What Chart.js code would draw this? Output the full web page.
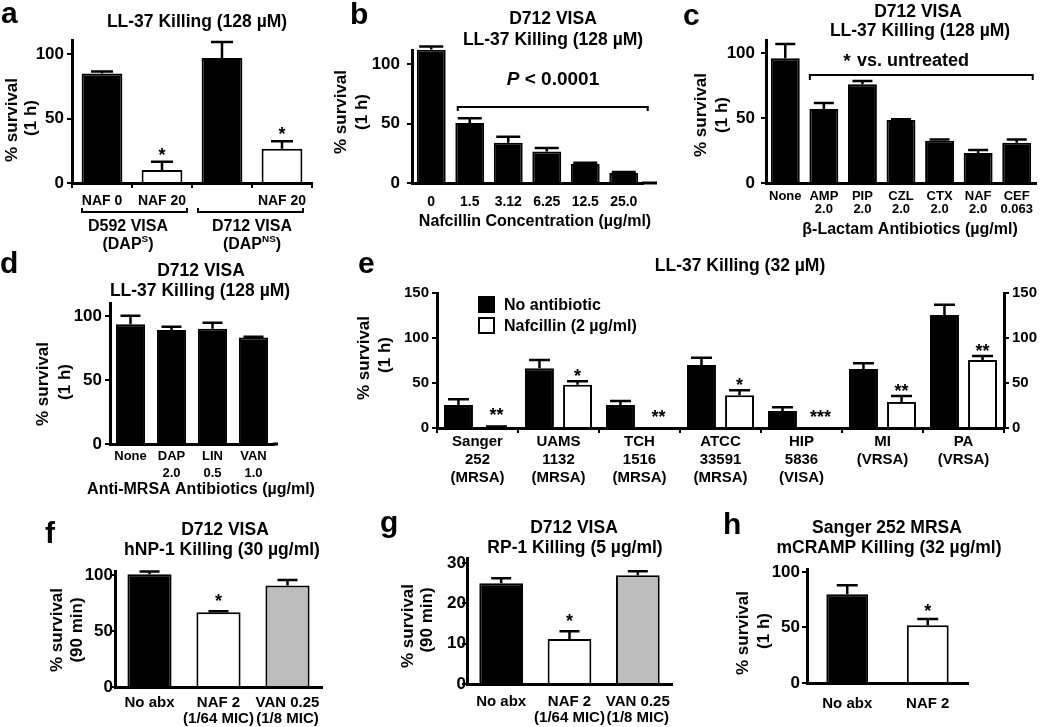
<!DOCTYPE html>
<html><head><meta charset="utf-8">
<script src="https://cdn.jsdelivr.net/npm/chart.js@4.4.1/dist/chart.umd.min.js"></script>
<style>
html,body{margin:0;padding:0;background:#fff;}
#wrap{position:relative;width:1050px;height:727px;overflow:hidden;background:#fff;}
#wrap canvas{position:absolute;left:0;top:0;}
</style>
</head><body><div id="wrap"></div>
<script>
// ---------- DATA ----------
// Panel a
const aLabels = ['NAF 0', 'NAF 20', '', 'NAF 20'];
const aValues = [85, 10, 97, 26.5];
const aErrors = [1.5, 6.5, 12.5, 6];
const aStars = ['', '*', '', '*'];
const aColors = ['#000', '#fff', '#000', '#fff'];
const aYTicks = [0, 50, 100];
// Panel b
const bLabels = ['0', '1.5', '3.12', '6.25', '12.5', '25.0'];
const bValues = [112.5, 50.5, 34, 26.5, 16, 8.5];
const bErrors = [2.5, 4, 5, 3, 1, 0.7];
const bYTicks = [0, 50, 100];
// Panel c
const cLabels = [['None'], ['AMP', '2.0'], ['PIP', '2.0'], ['CZL', '2.0'], ['CTX', '2.0'], ['NAF', '2.0'], ['CEF', '0.063']];
const cValues = [96, 57, 76, 48.5, 32.5, 23, 31];
const cErrors = [11, 4.5, 2.5, 0.5, 1, 2.4, 2.5];
const cYTicks = [0, 50, 100];
// Panel d
const dLabels = [['None'], ['DAP', '2.0'], ['LIN', '0.5'], ['VAN', '1.0']];
const dValues = [93.5, 89, 90, 83];
const dErrors = [6.5, 2.5, 4.5, 0.6];
const dYTicks = [0, 50, 100];
// Panel e
const eLabels = [['Sanger', '252', '(MRSA)'], ['UAMS', '1132', '(MRSA)'], ['TCH', '1516', '(MRSA)'], ['ATCC', '33591', '(MRSA)'], ['HIP', '5836', '(VISA)'], ['MI', '(VRSA)'], ['PA', '(VRSA)']];
const eSeriesNames = ['No antibiotic', 'Nafcillin (2 µg/ml)'];
const eNoAbx = [25.5, 66.5, 25.5, 70, 19, 65.5, 125.5];
const eNoAbxErr = [6.5, 9, 4.5, 8, 4, 6.5, 11.5];
const eNaf = [1.5, 48, 0, 36.5, 0, 29, 75.5];
const eNafErr = [0.3, 4, 0, 5.5, 0, 6.5, 4.5];
const eStars = ['**', '*', '**', '*', '***', '**', '**'];
const eYTicks = [0, 50, 100, 150];
// Panel f
const fLabels = [['No abx'], ['NAF 2', '(1/64 MIC)'], ['VAN 0.25', '(1/8 MIC)']];
const fValues = [101, 67, 91];
const fErrors = [2.6, 1, 5];
const fStars = ['', '*', ''];
const fColors = ['#000', '#fff', '#bdbdbd'];
const fYTicks = [0, 50, 100];
// Panel g
const gLabels = [['No abx'], ['NAF 2', '(1/64 MIC)'], ['VAN 0.25', '(1/8 MIC)']];
const gValues = [25, 11.2, 27];
const gErrors = [1.3, 1.9, 1];
const gStars = ['', '*', ''];
const gColors = ['#000', '#fff', '#bdbdbd'];
const gYTicks = [0, 10, 20, 30];
// Panel h
const hLabels = [['No abx'], ['NAF 2']];
const hValues = [80, 52];
const hErrors = [8, 5.6];
const hStars = ['', '*'];
const hColors = ['#000', '#fff'];
const hYTicks = [0, 50, 100];

// ---------- HELPERS ----------
const F = '"Liberation Sans", Arial, Helvetica, sans-serif';
Chart.defaults.font.family = F;
Chart.defaults.color = '#000';
const W = 1050, H = 727;

function fnt(size, italic) { return (italic ? 'italic ' : '') + 'bold ' + size + 'px ' + F; }

function drawRich(ctx, segs, x, y, size, align) {
  let total = 0;
  const parts = segs.map(s => {
    const sz = s.sup ? size * 0.62 : size;
    ctx.font = fnt(sz, s.italic);
    const w = ctx.measureText(s.t).width;
    total += w;
    return { s, sz, w };
  });
  let cx = align === 'left' ? x : x - total / 2;
  ctx.textAlign = 'left';
  ctx.textBaseline = 'middle';
  parts.forEach(p => {
    ctx.font = fnt(p.sz, p.s.italic);
    ctx.fillText(p.s.t, cx, p.s.sup ? y - size * 0.36 : y);
    cx += p.w;
  });
}

const notes = {
  id: 'notes',
  afterDatasetsDraw(chart, args, o) {
    const ctx = chart.ctx;
    const cap = o.cap || 22;
    chart.data.datasets.forEach((ds, di) => {
      if (!ds.errors) return;
      const meta = chart.getDatasetMeta(di);
      const ys = chart.scales[meta.yAxisID];
      meta.data.forEach((el, i) => {
        const e = ds.errors[i];
        if (!e) return;
        const top = ys.getPixelForValue(ds.data[i] + e);
        ctx.save();
        ctx.strokeStyle = '#000';
        ctx.lineWidth = 2.5;
        ctx.beginPath();
        ctx.moveTo(el.x, el.y);
        ctx.lineTo(el.x, top);
        ctx.moveTo(el.x - cap / 2, top);
        ctx.lineTo(el.x + cap / 2, top);
        ctx.stroke();
        ctx.restore();
      });
    });
  },
  afterDraw(chart, args, o) {
    const ctx = chart.ctx;
    const xs = chart.scales.x, ys = chart.scales.y;
    const B = chart.chartArea.bottom, R = chart.chartArea.right;
    ctx.save();
    ctx.fillStyle = '#000';
    ctx.strokeStyle = '#000';
    if (o.extend) {
      ctx.lineWidth = 3;
      ctx.beginPath(); ctx.moveTo(R - 1, B); ctx.lineTo(R + o.extend, B); ctx.stroke();
    }
    (o.brackets || []).forEach(b => {
      const x1 = xs.getPixelForValue(b.from) + b.fromDx;
      const x2 = xs.getPixelForValue(b.to) + b.toDx;
      const y = b.v !== undefined ? ys.getPixelForValue(b.v) : B + b.off;
      ctx.lineWidth = 2;
      ctx.beginPath();
      ctx.moveTo(x1, y + b.tick); ctx.lineTo(x1, y); ctx.lineTo(x2, y); ctx.lineTo(x2, y + b.tick);
      ctx.stroke();
    });
    (o.groups || []).forEach(g => {
      const x = (xs.getPixelForValue(g.from) + xs.getPixelForValue(g.to)) / 2 + (g.dx || 0);
      drawRich(ctx, g.segs, x, B + g.off, g.size, 'center');
    });
    (o.stars || []).forEach(s => {
      const meta = chart.getDatasetMeta(s.ds);
      const ds = chart.data.datasets[s.ds];
      s.list.forEach((t, i) => {
        if (!t) return;
        const v = ds.data[i] + (ds.errors ? ds.errors[i] : 0);
        const gap = v < 3 ? s.gapLow : s.gap;
        const yc = ys.getPixelForValue(v) - gap;
        ctx.font = fnt(s.size);
        ctx.textAlign = 'center';
        ctx.textBaseline = 'alphabetic';
        ctx.fillText(t, meta.data[i].x, yc + 0.56 * s.size);
      });
    });
    if (o.legend) {
      const L = o.legend;
      const x0 = chart.chartArea.left + L.dx;
      let y0 = chart.chartArea.top + L.dy;
      chart.data.datasets.forEach(ds => {
        ctx.fillStyle = ds.backgroundColor;
        ctx.fillRect(x0, y0, L.box, L.box);
        ctx.lineWidth = 2;
        ctx.strokeStyle = '#000';
        ctx.strokeRect(x0 + 1, y0 + 1, L.box - 2, L.box - 2);
        ctx.fillStyle = '#000';
        ctx.font = fnt(L.size);
        ctx.textAlign = 'left';
        ctx.textBaseline = 'middle';
        ctx.fillText(ds.label, x0 + L.box + 9, y0 + L.box / 2 + 1);
        y0 += L.step;
      });
    }
    (o.texts || []).forEach(t => {
      ctx.save();
      ctx.fillStyle = '#000';
      ctx.translate(t.x, t.y);
      if (t.rot) ctx.rotate(t.rot * Math.PI / 180);
      if (t.segs) {
        drawRich(ctx, t.segs, 0, 0, t.size, t.align);
      } else {
        ctx.font = fnt(t.size);
        ctx.textAlign = t.align || 'center';
        ctx.textBaseline = t.base || 'middle';
        ctx.fillText(t.t, 0, 0);
      }
      ctx.restore();
    });
    ctx.restore();
  }
};
Chart.register(notes);

const TS = 17.5, YT = 17, LET = 30;
function letter(t, x, y) { return { t, x, y, size: LET, align: 'left', base: 'alphabetic' }; }
function ytitle(t, x, y) { return { t, x, y, size: YT, rot: -90 }; }
function title(t, x, y) { return { t, x, y, size: TS }; }

function panel(p) {
  const cv = document.createElement('canvas');
  cv.width = W; cv.height = H;
  document.getElementById('wrap').appendChild(cv);
  const yW = 40, xH = 70;
  const yAxis = (ticks, pos) => ({
    type: 'linear', position: pos, min: 0, max: p.yMax, z: 1,
    grid: { display: true, drawOnChartArea: false, drawTicks: true, tickLength: 5, color: '#000', lineWidth: 2 },
    border: { display: true, color: '#000', width: 3 },
    ticks: { color: '#000', font: { family: F, weight: 'bold', size: p.yFont || 17 }, padding: p.yPad },
    afterBuildTicks: s => { s.ticks = ticks.map(v => ({ value: v })); },
    afterFit: s => { s.width = yW; }
  });
  const scales = {
    x: {
      type: 'category', offset: true, z: 1,
      grid: p.xTicks ? { display: true, drawOnChartArea: false, drawTicks: true, tickLength: 5, color: '#000', lineWidth: 2, offset: true }
                     : { display: false, drawTicks: false, tickLength: 0 },
      border: { display: true, color: '#000', width: 3 },
      ticks: { color: '#000', font: { family: F, weight: 'bold', size: p.xFont, lineHeight: p.xLH }, padding: p.xPad, maxRotation: 0, minRotation: 0, autoSkip: false },
      afterFit: s => { s.height = xH; }
    },
    y: yAxis(p.yTicks, 'left')
  };
  if (p.right) scales.y2 = yAxis(p.yTicks, 'right');
  new Chart(cv, {
    type: 'bar',
    data: { labels: p.labels, datasets: p.datasets },
    options: {
      responsive: false, animation: false, events: [],
      layout: { padding: { left: p.L - yW, right: W - p.R - (p.right ? yW : 0), top: p.T, bottom: H - p.B - xH } },
      datasets: { bar: { categoryPercentage: p.catPct || 1, barPercentage: p.barPct, borderColor: '#000', borderWidth: 2 } },
      scales,
      plugins: { legend: { display: false }, tooltip: { enabled: false }, title: { display: false }, notes: p.notes }
    }
  });
}

// ---------- PANELS ----------
// a
panel({
  L: 72, R: 312, T: 40, B: 183, yMax: 111, yTicks: aYTicks, yPad: 3, xTicks: true,
  xFont: 14, xLH: 1.2, xPad: 5, barPct: 0.68, labels: aLabels,
  datasets: [{ data: aValues, errors: aErrors, backgroundColor: aColors }],
  notes: {
    stars: [{ ds: 0, list: aStars, size: 18, gap: 11, gapLow: 11 }],
    brackets: [
      { from: 0, fromDx: -20, to: 1, toDx: 25, off: 29, tick: -4 },
      { from: 2, fromDx: -24, to: 3, toDx: 21, off: 29, tick: -4 }
    ],
    groups: [
      { from: 0, to: 1, dx: -4, off: 44, size: 16, segs: [{ t: 'D592 VISA' }] },
      { from: 0, to: 1, dx: -4, off: 62, size: 16, segs: [{ t: '(DAP' }, { t: 'S', sup: true }, { t: ')' }] },
      { from: 2, to: 3, dx: 0, off: 44, size: 16, segs: [{ t: 'D712 VISA' }] },
      { from: 2, to: 3, dx: 0, off: 62, size: 16, segs: [{ t: '(DAP' }, { t: 'NS', sup: true }, { t: ')' }] }
    ],
    texts: [
      letter('a', 1, 23), title('LL-37 Killing (128 µM)', 197, 22),
      ytitle('% survival', 12, 120), ytitle('(1 h)', 31, 118)
    ]
  }
});
// b
panel({
  L: 412, R: 643, T: 50, B: 183, yMax: 112, yTicks: bYTicks, yPad: 7,
  xFont: 14, xLH: 1.2, xPad: 11, barPct: 0.75, labels: bLabels,
  datasets: [{ data: bValues, errors: bErrors, backgroundColor: '#000' }],
  notes: {
    cap: 24, extend: 14,
    brackets: [{ from: 1, fromDx: -12, to: 5, toDx: 24, v: 64, tick: 4 }],
    texts: [
      letter('b', 350, 24), title('D712 VISA', 553, 19), title('LL-37 Killing (128 µM)', 553, 40),
      ytitle('% survival', 341, 112), ytitle('(1 h)', 362, 112),
      { t: 'Nafcillin Concentration (µg/ml)', x: 535, y: 222, size: 16 },
      { segs: [{ t: 'P', italic: true }, { t: ' < 0.0001' }], x: 553, y: 80, size: 19 }
    ]
  }
});
// c
panel({
  L: 766, R: 1036, T: 40, B: 183, yMax: 110, yTicks: cYTicks, yPad: 6,
  xFont: 13, xLH: 1.0, xPad: 7, barPct: 0.75, labels: cLabels,
  datasets: [{ data: cValues, errors: cErrors, backgroundColor: '#000' }],
  notes: {
    cap: 20,
    brackets: [{ from: 1, fromDx: -14, to: 6, toDx: 16, v: 83, tick: 5 }],
    texts: [
      letter('c', 683, 25), title('D712 VISA', 918, 12), title('LL-37 Killing (128 µM)', 920, 31),
      ytitle('% survival', 701, 115), ytitle('(1 h)', 722, 115),
      { t: 'β-Lactam Antibiotics (µg/ml)', x: 910, y: 230, size: 16 },
      { t: '*', x: 847, y: 56 + 0.56 * 19, size: 19, base: 'alphabetic' },
      { t: 'vs. untreated', x: 857, y: 61, size: 18, align: 'left' }
    ]
  }
});
// d
panel({
  L: 110, R: 274, T: 303, B: 444, yMax: 110, yTicks: dYTicks, yPad: 3,
  xFont: 13, xLH: 1.28, xPad: 4, barPct: 0.71, labels: dLabels,
  datasets: [{ data: dValues, errors: dErrors, backgroundColor: '#000' }],
  notes: {
    cap: 20, extend: 4,
    texts: [
      letter('d', 0, 273), title('D712 VISA', 201, 271), title('LL-37 Killing (128 µM)', 200, 291),
      ytitle('% survival', 43, 384), ytitle('(1 h)', 65, 382),
      { t: 'Anti-MRSA Antibiotics (µg/ml)', x: 201, y: 490, size: 16 }
    ]
  }
});
// e
panel({
  L: 437, R: 1004, T: 293, B: 428, yMax: 150, yTicks: eYTicks, yPad: 3, yFont: 15, right: true, xTicks: true,
  xFont: 15, xLH: 1.2, xPad: 0, catPct: 0.94, barPct: 0.76, labels: eLabels,
  datasets: [
    { label: eSeriesNames[0], data: eNoAbx, errors: eNoAbxErr, backgroundColor: '#000' },
    { label: eSeriesNames[1], data: eNaf, errors: eNafErr, backgroundColor: '#fff' }
  ],
  notes: {
    cap: 21,
    stars: [{ ds: 1, list: eStars, size: 18, gap: 9, gapLow: 15 }],
    legend: { dx: 41, dy: 3, box: 17, step: 21, size: 16 },
    texts: [
      letter('e', 358, 273), title('LL-37 Killing (32 µM)', 740, 266),
      ytitle('% survival', 364, 358), ytitle('(1 h)', 385, 355)
    ]
  }
});
// f
panel({
  L: 115, R: 322, T: 571, B: 687, yMax: 104, yTicks: fYTicks, yPad: -3,
  xFont: 15, xLH: 1.07, xPad: 8, barPct: 0.64, labels: fLabels,
  datasets: [{ data: fValues, errors: fErrors, backgroundColor: fColors }],
  notes: {
    cap: 20,
    stars: [{ ds: 0, list: fStars, size: 18, gap: 14, gapLow: 14 }],
    texts: [
      letter('f', 45, 543), title('D712 VISA', 225, 530), title('hNP-1 Killing (30 µg/ml)', 222, 550),
      ytitle('% survival', 57, 630), ytitle('(90 min)', 77, 630)
    ]
  }
});
// g
panel({
  L: 467, R: 672, T: 558, B: 684, yMax: 31.3, yTicks: gYTicks, yPad: -4,
  xFont: 15, xLH: 1.07, xPad: 10, barPct: 0.64, labels: gLabels,
  datasets: [{ data: gValues, errors: gErrors, backgroundColor: gColors }],
  notes: {
    cap: 20,
    stars: [{ ds: 0, list: gStars, size: 18, gap: 14, gapLow: 14 }],
    texts: [
      letter('g', 380, 532), title('D712 VISA', 574, 528), title('RP-1 Killing (5 µg/ml)', 575, 548),
      ytitle('% survival', 408, 626), ytitle('(90 min)', 427, 620)
    ]
  }
});
// h
panel({
  L: 807, R: 968, T: 569, B: 683, yMax: 102.7, yTicks: hYTicks, yPad: 2,
  xFont: 15, xLH: 1.07, xPad: 13, barPct: 0.52, labels: hLabels,
  datasets: [{ data: hValues, errors: hErrors, backgroundColor: hColors }],
  notes: {
    cap: 21,
    stars: [{ ds: 0, list: hStars, size: 18, gap: 12, gapLow: 12 }],
    texts: [
      letter('h', 723, 534), title('Sanger 252 MRSA', 887, 528), title('mCRAMP Killing (32 µg/ml)', 889, 548),
      ytitle('% survival', 743, 633), ytitle('(1 h)', 764, 631)
    ]
  }
});
</script></body></html>
